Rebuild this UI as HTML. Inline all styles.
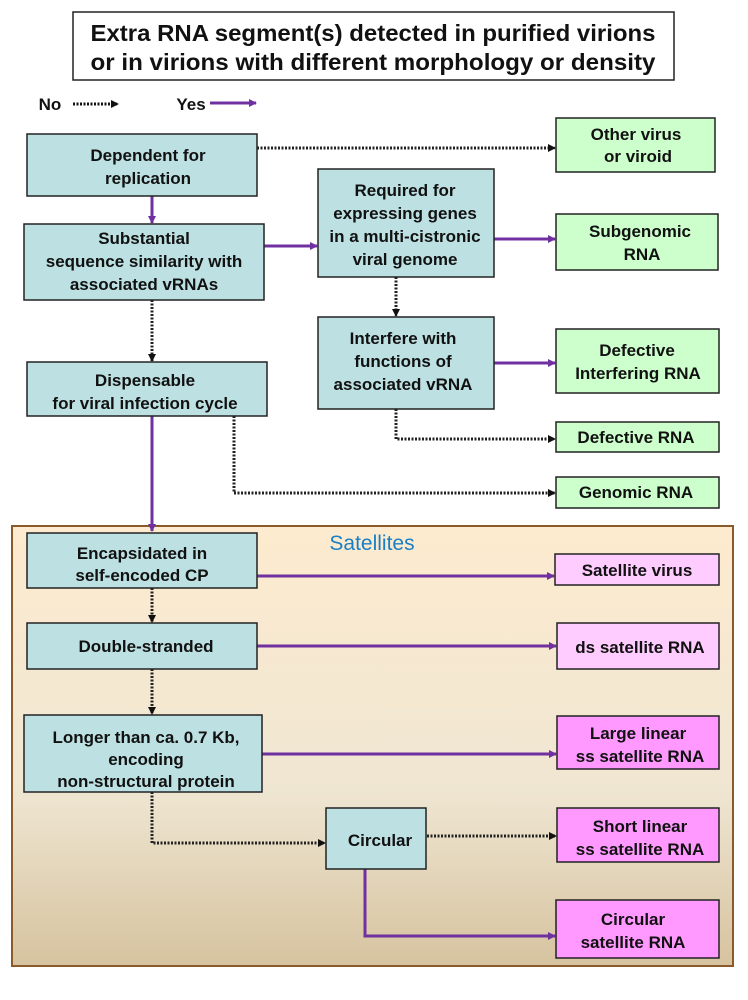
<!DOCTYPE html>
<html><head><meta charset="utf-8"><style>
html,body{margin:0;padding:0;background:#fff;width:748px;height:1000px;overflow:hidden}
svg{display:block}
text{font-family:"Liberation Sans",Arial,sans-serif;font-weight:bold;fill:#111;text-anchor:middle}
</style></head><body>
<svg width="748" height="1000" viewBox="0 0 748 1000" xmlns="http://www.w3.org/2000/svg">
<defs>
<linearGradient id="bg" x1="0" y1="0" x2="0" y2="1">
<stop offset="0" stop-color="#fdebcf"/><stop offset="0.6" stop-color="#efe6d2"/><stop offset="1" stop-color="#d6c39f"/>
</linearGradient>
<marker id="ap" markerWidth="8" markerHeight="8" refX="7" refY="4" orient="auto" markerUnits="userSpaceOnUse"><path d="M0,0 L8,4 L0,8 z" fill="#7030a0"/></marker>
<marker id="ab" markerWidth="8" markerHeight="8" refX="7" refY="4" orient="auto" markerUnits="userSpaceOnUse"><path d="M0,0 L8,4 L0,8 z" fill="#111"/></marker>
</defs>

<rect x="73" y="12" width="601" height="68" fill="#fff" stroke="#222" stroke-width="1.5"/>
<text x="373" y="41" font-size="23" textLength="565" lengthAdjust="spacingAndGlyphs">Extra RNA segment(s) detected in purified virions</text>
<text x="373" y="70" font-size="23" textLength="565" lengthAdjust="spacingAndGlyphs">or in virions with different morphology or density</text>

<text x="50" y="110" font-size="17">No</text>
<line x1="73" y1="104" x2="118" y2="104" stroke="#111" stroke-width="3" stroke-dasharray="2,1.5" marker-end="url(#ab)"/>
<text x="191" y="110" font-size="17">Yes</text>
<line x1="210" y1="103" x2="256" y2="103" stroke="#7030a0" stroke-width="3" marker-end="url(#ap)"/>

<rect x="12" y="526" width="721" height="440" fill="url(#bg)" stroke="#8b5a2b" stroke-width="2"/>
<text x="372" y="550" font-size="21" style="fill:#1a7fc4;font-weight:normal">Satellites</text>

<g stroke-width="3" fill="none">
<g stroke="#7030a0" marker-end="url(#ap)">
<line x1="152" y1="196" x2="152" y2="223"/>
<line x1="264" y1="246" x2="317" y2="246"/>
<line x1="494" y1="239" x2="555" y2="239"/>
<line x1="494" y1="363" x2="555" y2="363"/>
<line x1="152" y1="416" x2="152" y2="531"/>
<line x1="257" y1="576" x2="554" y2="576"/>
<line x1="257" y1="646" x2="556" y2="646"/>
<line x1="262" y1="754" x2="556" y2="754"/>
<polyline points="365,869 365,936 555,936"/>
</g>
<g stroke="#222" stroke-dasharray="2,1.5" marker-end="url(#ab)">
<line x1="257" y1="148" x2="555" y2="148"/>
<line x1="396" y1="277" x2="396" y2="316"/>
<polyline points="396,409 396,439 555,439"/>
<line x1="152" y1="300" x2="152" y2="361"/>
<polyline points="234,416 234,493 555,493"/>
<line x1="152" y1="588" x2="152" y2="622"/>
<line x1="152" y1="669" x2="152" y2="714"/>
<polyline points="152,792 152,843 325,843"/>
<line x1="427" y1="836" x2="556" y2="836"/>
</g>
</g>

<g fill="#bde1e3" stroke="#222" stroke-width="1.5">
<rect x="27" y="134" width="230" height="62"/>
<rect x="24" y="224" width="240" height="76"/>
<rect x="27" y="362" width="240" height="54"/>
<rect x="318" y="169" width="176" height="108"/>
<rect x="318" y="317" width="176" height="92"/>
<rect x="27" y="533" width="230" height="55"/>
<rect x="27" y="623" width="230" height="46"/>
<rect x="24" y="715" width="238" height="77"/>
<rect x="326" y="808" width="100" height="61"/>
</g>
<g fill="#ccffcc" stroke="#222" stroke-width="1.5">
<rect x="556" y="118" width="159" height="54"/>
<rect x="556" y="214" width="162" height="56"/>
<rect x="556" y="329" width="163" height="64"/>
<rect x="556" y="422" width="163" height="30"/>
<rect x="556" y="477" width="163" height="31"/>
</g>
<g stroke="#222" stroke-width="1.5">
<rect x="555" y="554" width="164" height="31" fill="#ffccff"/>
<rect x="557" y="623" width="162" height="46" fill="#ffccff"/>
<rect x="557" y="716" width="162" height="53" fill="#ff99ff"/>
<rect x="557" y="808" width="162" height="54" fill="#ff99ff"/>
<rect x="556" y="900" width="163" height="58" fill="#ff99ff"/>
</g>

<g font-size="17">
<text x="148" y="161">Dependent for</text>
<text x="148" y="184">replication</text>
<text x="144" y="244">Substantial</text>
<text x="144" y="267">sequence  similarity with</text>
<text x="144" y="290">associated vRNAs</text>
<text x="145" y="386">Dispensable</text>
<text x="145" y="409">for viral infection cycle</text>
<text x="405" y="196">Required for</text>
<text x="405" y="219">expressing genes</text>
<text x="405" y="242">in a multi-cistronic</text>
<text x="405" y="265">viral genome</text>
<text x="403" y="344">Interfere with</text>
<text x="403" y="367">functions of</text>
<text x="403" y="390">associated vRNA</text>
<text x="636" y="140">Other virus</text>
<text x="638" y="162">or viroid</text>
<text x="640" y="237">Subgenomic</text>
<text x="642" y="260">RNA</text>
<text x="637" y="356">Defective</text>
<text x="638" y="379">Interfering RNA</text>
<text x="636" y="443">Defective RNA</text>
<text x="636" y="498">Genomic RNA</text>
<text x="142" y="559">Encapsidated in</text>
<text x="142" y="581">self-encoded CP</text>
<text x="146" y="652">Double-stranded</text>
<text x="146" y="743">Longer than ca. 0.7 Kb,</text>
<text x="146" y="765">encoding</text>
<text x="146" y="787">non-structural protein</text>
<text x="380" y="846">Circular</text>
<text x="637" y="576">Satellite virus</text>
<text x="640" y="653">ds satellite RNA</text>
<text x="638" y="739">Large linear</text>
<text x="640" y="762">ss satellite RNA</text>
<text x="640" y="832">Short linear</text>
<text x="640" y="855">ss satellite RNA</text>
<text x="633" y="925">Circular</text>
<text x="633" y="948">satellite RNA</text>
</g>
</svg>
</body></html>
